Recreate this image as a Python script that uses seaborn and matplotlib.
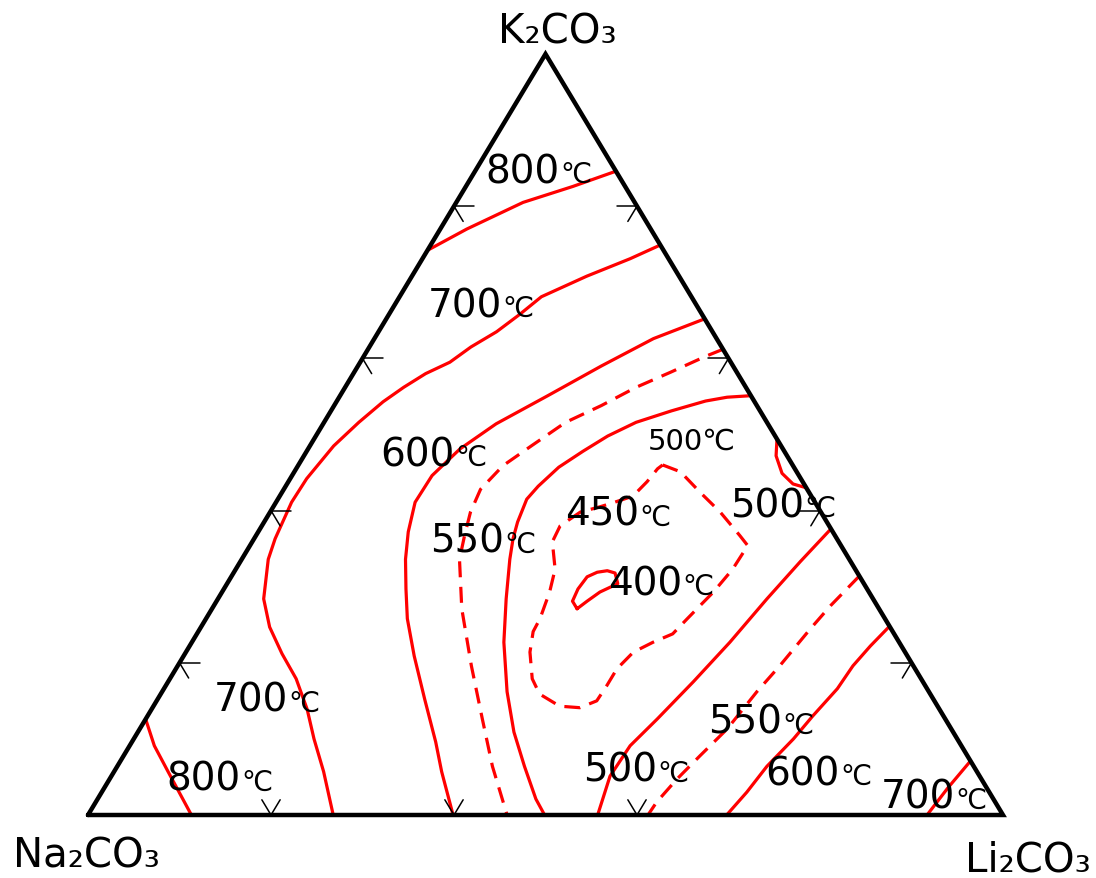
import matplotlib
matplotlib.use("Agg")
import matplotlib.pyplot as plt
import numpy as np
import pandas as pd
import seaborn as sns

# Liquidus isotherms of Li2CO3-Na2CO3-K2CO3, compositions in mol % (Li2CO3, K2CO3)
li_800_top = [0.0, 2.9, 7.3, 11.7, 15.4]
k_800_top = [74.2, 77.0, 80.5, 82.6, 84.6]

li_700 = [25.1, 22.7, 19.1, 15.5, 14.3, 12.9, 11.1, 9.8, 7.9, 6.4, 5.1, 3.8, 2.6,
          1.8, 1.7, 2.3, 2.9, 5.0, 7.5, 10.6, 13.8, 17.0, 19.7, 22.9, 26.8]
k_700 = [74.9, 73.1, 70.8, 68.1, 65.8, 63.5, 61.5, 59.5, 58.0, 56.2, 54.3, 51.6, 48.5,
         44.2, 41.1, 36.3, 33.6, 28.4, 24.7, 21.2, 17.9, 13.9, 10.0, 5.7, 0.0]

li_600 = [34.8, 30.5, 26.6, 22.7, 18.9, 16.6, 15.3, 15.2, 16.4, 17.9, 19.9, 22.0,
          25.2, 29.2, 33.2, 35.8, 39.9]
k_600 = [65.2, 62.6, 59.0, 55.1, 51.4, 48.1, 44.6, 41.1, 37.2, 33.6, 29.7, 25.8,
         20.9, 15.2, 9.6, 5.7, 0.0]

li_550 = [38.8, 37.4, 34.6, 31.8, 29.2, 26.4, 24.2, 22.4, 21.5, 21.9, 22.8, 23.8,
          27.3, 32.1, 36.8, 41.0, 45.8]
k_550 = [61.2, 60.3, 58.2, 56.2, 53.8, 51.6, 48.5, 45.9, 42.8, 39.8, 36.7, 33.6,
         27.1, 19.6, 12.6, 6.4, 0.0]

li_500 = [44.9, 42.4, 40.3, 37.2, 34.1, 31.9, 30.2, 28.6, 27.6, 27.2, 27.7, 28.3,
          29.3, 31.5, 34.1, 37.7, 41.1, 44.5, 47.9, 49.9]
k_500 = [55.1, 54.9, 54.4, 53.1, 51.6, 49.8, 47.8, 45.7, 43.2, 41.5, 38.5, 36.3,
         33.6, 28.4, 22.7, 16.2, 10.9, 6.4, 2.1, 0.0]

li_450 = [39.8, 42.2, 45.7, 49.2, 52.9, 54.4, 54.3, 53.7, 52.6, 52.0, 50.4, 48.9,
          48.2, 48.2, 48.1, 46.7, 44.4, 41.4, 39.6, 37.6, 36.6, 36.5, 35.8, 34.9,
          32.8, 32.6, 33.9, 35.7, 36.6, 38.6, 39.2, 39.5, 39.8]
k_450 = [46.0, 45.1, 42.4, 39.8, 36.7, 35.4, 32.3, 29.3, 25.8, 23.8, 22.7, 21.4,
         19.2, 17.0, 15.0, 14.1, 14.3, 15.9, 17.9, 21.4, 24.1, 25.8, 29.3, 32.3,
         35.9, 38.0, 39.8, 40.5, 40.9, 41.9, 43.8, 45.5, 46.0]

li_400 = [39.9, 38.9, 38.7, 38.9, 39.7, 40.7, 41.7, 42.7, 41.3, 40.5, 39.9]
k_400 = [27.1, 28.1, 29.7, 31.3, 31.9, 32.1, 31.8, 30.4, 29.3, 28.1, 27.1]

li_500_arc = [50.6, 51.6, 53.4, 55.3, 57.0]
k_500_arc = [49.4, 47.2, 44.9, 43.5, 43.0]

li_500_li = [62.4, 61.2, 60.0, 58.8, 57.4, 55.9, 54.7, 54.5, 55.7]
k_500_li = [37.6, 33.3, 28.4, 22.7, 17.5, 12.6, 9.1, 5.1, 0.0]

li_550_li = [68.6, 67.4, 66.7, 65.8, 65.0, 64.2, 63.0, 62.0, 61.3, 61.2]
k_550_li = [31.4, 27.5, 24.4, 19.6, 16.2, 11.3, 7.8, 4.7, 1.7, 0.0]

li_600_li = [75.2, 74.4, 73.8, 73.6, 72.7, 72.1, 71.0, 70.5, 69.8]
k_600_li = [24.8, 22.2, 19.6, 16.6, 13.0, 10.0, 6.4, 3.0, 0.0]

li_700_li = [92.9, 92.2, 91.7]
k_700_li = [7.1, 3.6, 0.0]

li_800_na = [0.0, 2.7, 5.9, 11.3]
k_800_na = [12.6, 9.1, 5.7, 0.0]

isotherms = [
    (li_800_top, k_800_top, False),
    (li_700, k_700, False),
    (li_600, k_600, False),
    (li_550, k_550, True),
    (li_500, k_500, False),
    (li_450, k_450, True),
    (li_400, k_400, False),
    (li_500_arc, k_500_arc, False),
    (li_500_li, k_500_li, False),
    (li_550_li, k_550_li, True),
    (li_600_li, k_600_li, False),
    (li_700_li, k_700_li, False),
    (li_800_na, k_800_na, False),
]

# isotherm labels (deg C) and where each one sits in the triangle frame
label_temps = [800, 700, 600, 550, 450, 400, 500, 700, 800, 500, 550, 600, 700]
label_xy = [(0.5158, 0.8318), (0.4525, 0.6557), (0.4011, 0.4599), (0.4546, 0.3456),
            (0.6022, 0.3811), (0.6492, 0.2904), (0.7825, 0.3929), (0.2186, 0.1367),
            (0.1672, 0.0329), (0.6219, 0.0447), (0.7585, 0.1078), (0.8219, 0.0407),
            (0.9475, 0.0092)]
top_label_temp = 500
top_label_xy = (0.6120, 0.4809)

vertex_names = ["K\u2082CO\u2083", "Na\u2082CO\u2083", "Li\u2082CO\u2083"]
edge_ticks_left = [0.2, 0.4, 0.6, 0.8]
edge_ticks_right = [0.2, 0.4, 0.6, 0.8]
edge_ticks_bottom = [0.2, 0.4, 0.6]


def to_xy(li, k):
    li = np.asarray(li, dtype=float)
    k = np.asarray(k, dtype=float)
    return li + k / 2.0, k


sns.set_theme(style="white")
plt.rcParams["font.family"] = ["DejaVu Sans"]
plt.rcParams["text.color"] = "black"

fig = plt.figure(figsize=(10.96, 8.79), dpi=100)
ax = fig.add_axes([88 / 1096, 63 / 879, 915 / 1096, 761 / 879])
ax.set_xlim(0, 1)
ax.set_ylim(0, 1)
ax.axis("off")

red = "#ff0000"
for li, k, dashed in isotherms:
    x, y = to_xy(np.array(li) / 100, np.array(k) / 100)
    df = pd.DataFrame({"x": x, "y": y})
    sns.lineplot(data=df, x="x", y="y", sort=False, estimator=None, ax=ax,
                 color=red, lw=2.3, clip_on=False,
                 ls=(0, (5, 3)) if dashed else "-",
                 solid_joinstyle="round", dash_joinstyle="round")

# triangle frame
tx, ty = to_xy([0, 1, 0, 0], [0, 0, 1, 0])
ax.plot(tx, ty, color="black", lw=3.2, clip_on=False,
        solid_joinstyle="miter", zorder=5)

# grid stubs on the edges
d1, d2 = 0.022, 0.02
stubs = []
for k in edge_ticks_left:
    stubs.append(([0, d1], [k, k]))
    stubs.append(([0, d2], [k, k - d2]))
for k in edge_ticks_right:
    stubs.append(([1 - k, 1 - k - d1], [k, k]))
    stubs.append(([1 - k, 1 - k], [k, k - d2]))
for l in edge_ticks_bottom:
    stubs.append(([l, l - d2], [0, d2]))
    stubs.append(([l, l], [0, d2]))
for li, k in stubs:
    sx, sy = to_xy(li, k)
    ax.plot(sx, sy, color="black", lw=1.1, clip_on=False, zorder=5)

# isotherm labels
for t, (lx, ly) in zip(label_temps, label_xy):
    ax.text(lx, ly, f"{t}", fontsize=28, ha="right", va="baseline",
            color="black", zorder=6)
    ax.text(lx, ly, "\u2103", fontsize=20, ha="left", va="baseline",
            color="black", zorder=6)
ax.text(top_label_xy[0], top_label_xy[1], f"{top_label_temp}\u2103",
        fontsize=21, ha="left", va="baseline", color="black", zorder=6)

# component names at the vertices
fig.text(557 / 1096, 1 - 43 / 879, vertex_names[0], fontsize=29,
         ha="center", va="baseline", color="black")
fig.text(86 / 1096, 1 - 868 / 879, vertex_names[1], fontsize=29,
         ha="center", va="baseline", color="black")
fig.text(1028 / 1096, 1 - 872 / 879, vertex_names[2], fontsize=29,
         ha="center", va="baseline", color="black")

fig.savefig("out.png", dpi=100, facecolor="white")
